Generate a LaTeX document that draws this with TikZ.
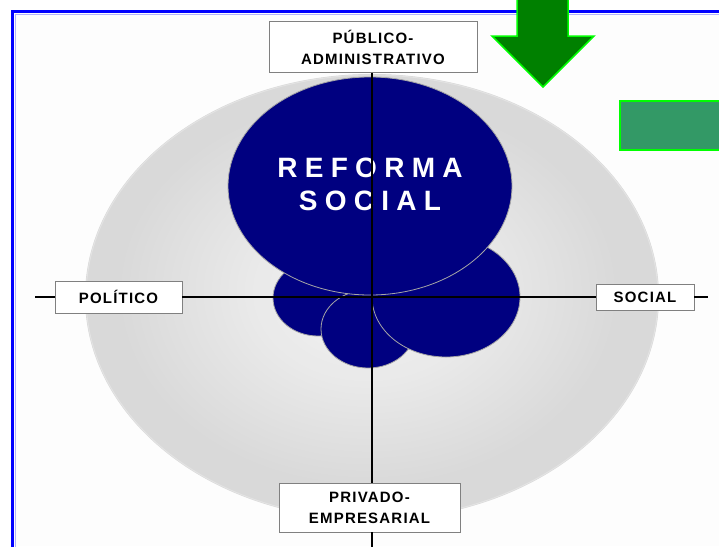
\documentclass[tikz,border=0pt]{standalone}
\usepackage{fontspec}
\setmainfont{Liberation Sans}
\newfontfamily\lblfont[LetterSpace=8]{Liberation Sans}
\newfontfamily\titlefont[LetterSpace=26]{Liberation Sans}
\definecolor{navyfill}{HTML}{000080}
\definecolor{arrowgreen}{HTML}{008000}
\definecolor{limeedge}{HTML}{00FF00}
\definecolor{seagreen}{HTML}{339966}
\definecolor{framebg}{HTML}{FDFDFD}
\tikzset{
  lbl/.style={draw=black!50, fill=white, line width=0.9pt, inner sep=0pt,
    align=center, font=\lblfont\bfseries\fontsize{15}{21}\selectfont},
  blob/.style={fill=navyfill, draw=black!35, line width=0.8pt},
  axis/.style={draw=black, line width=1.1pt}
}
\begin{document}
\begin{tikzpicture}[x=1pt,y=-1pt]
\useasboundingbox (0,0) rectangle (719,546);
% frame background and blue frame
\fill[framebg] (13,12) rectangle (719,546);
\draw[blue!30, line width=1pt] (15,548) -- (15,14) -- (722,14);
\draw[blue, line width=2.5pt] (12.5,548) -- (12.5,11.5) -- (722,11.5);
% grey disc with gradient
\fill[black!15] (372,297) ellipse [x radius=287pt, y radius=223pt];
\draw[black!11, line width=1pt] (372,297) ellipse [x radius=286pt, y radius=222pt];
\foreach \i in {0,...,29}{
  \pgfmathsetmacro\s{0.86*(1-\i/30)}
  \pgfmathsetmacro\rx{287*\s}
  \pgfmathsetmacro\ry{223*\s}
  \pgfmathsetmacro\c{14.5-11*\i/29}
  \fill[black!\c] (368,292) ellipse [x radius=\rx pt, y radius=\ry pt];
}
% navy blobs
\path[blob] (318,298) ellipse [x radius=45pt, y radius=38pt];
\path[blob] (368,329) ellipse [x radius=47pt, y radius=39pt];
\path[blob] (446,297) ellipse [x radius=74pt, y radius=60pt];
\path[blob] (370,186) ellipse [x radius=142pt, y radius=109pt];
\node[font=\titlefont\bfseries\fontsize{28}{33}\selectfont, text=white, align=center] (title) at (370,184) {REFORMA\\SOCIAL};
% labels
\node[lbl, minimum width=208pt, minimum height=51pt] (pub) at (373,47) {PÚBLICO-\\ADMINISTRATIVO};
\node[lbl, minimum width=127pt, minimum height=32pt] (pol) at (118.5,297) {POLÍTICO};
\node[lbl, minimum width=98pt, minimum height=26pt] (soc) at (645,297) {SOCIAL};
\node[lbl, minimum width=181pt, minimum height=49pt] (priv) at (369.5,507.5) {PRIVADO-\\EMPRESARIAL};
\coordinate (lend) at (35,297);
\coordinate (rend) at (708,297);
\coordinate (bend) at (372,548);
% axes
\draw[axis] (lend) -- (pol.west);
\draw[axis] (pol.east) -- (soc.west);
\draw[axis] (soc.east) -- (rend);
\draw[axis] (pub.south -| 372,0) -- (priv.north -| 372,0);
\draw[axis] (priv.south -| 372,0) -- (bend);
% green arrow
\draw[fill=arrowgreen, draw=limeedge, line width=1.5pt, line join=miter]
  (517,-3) -- (568,-3) -- (568,36) -- (594,36) -- (543,87) -- (492,36) -- (517,36) -- cycle;
% green rectangle
\draw[fill=seagreen, draw=limeedge, line width=2pt] (620,101) rectangle (725,150);
\end{tikzpicture}
\end{document}
